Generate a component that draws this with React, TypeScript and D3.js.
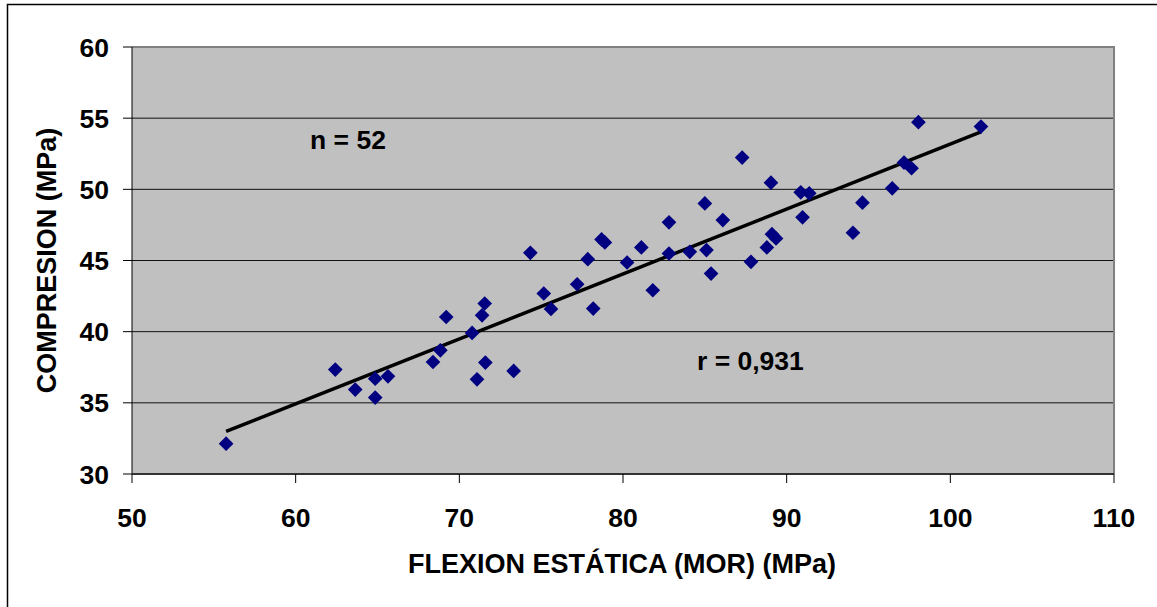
import React from "react";
import * as d3 from "d3";

// Flexion estatica (MOR) in MPa, one entry per specimen
const FLEXION = [
  55.75, 62.42, 63.64, 64.86, 64.86, 65.64, 68.39, 68.84, 69.2, 70.78,
  71.08, 71.39, 71.55, 71.59, 73.32, 74.34, 75.16, 75.6, 77.2, 77.85,
  78.18, 78.69, 78.89, 80.25, 81.12, 81.82, 82.81, 82.81, 84.08, 85.0,
  85.1, 85.38, 86.1, 87.28, 87.82, 88.79, 89.04, 89.1, 89.35, 90.86,
  90.97, 91.38, 94.05, 94.63, 96.45, 97.17, 97.63, 98.05, 101.87,
];

// Compresion in MPa, same order as FLEXION
const COMPRESION = [
  32.13, 37.34, 35.93, 36.7, 35.37, 36.86, 37.87, 38.69, 41.03, 39.91,
  36.65, 41.15, 41.98, 37.83, 37.24, 45.54, 42.68, 41.6, 43.33, 45.09,
  41.62, 46.48, 46.27, 44.86, 45.92, 42.91, 47.68, 45.49, 45.61, 49.01,
  45.73, 44.08, 47.84, 52.23, 44.91, 45.92, 50.47, 46.85, 46.55, 49.79,
  48.03, 49.72, 46.95, 49.06, 50.07, 51.88, 51.48, 54.72, 54.41,
];

const X_TICKS = [50, 60, 70, 80, 90, 100, 110];
const Y_TICKS = [30, 35, 40, 45, 50, 55, 60];

const X_TITLE = "FLEXION ESTÁTICA (MOR) (MPa)";
const Y_TITLE = "COMPRESION (MPa)";
const N_LABEL = "n = 52";
const R_LABEL = "r = 0,931";

const W = 1157;
const H = 607;
const plot = { left: 132, right: 1114, top: 47, bottom: 474 };
const FONT = "'Liberation Sans', Arial, sans-serif";

// least squares fit for the trend line
function linearFit(xs: number[], ys: number[]) {
  const mx = d3.mean(xs) as number;
  const my = d3.mean(ys) as number;
  let num = 0;
  let den = 0;
  for (let i = 0; i < xs.length; i++) {
    num += (xs[i] - mx) * (ys[i] - my);
    den += (xs[i] - mx) * (xs[i] - mx);
  }
  const slope = num / den;
  return { slope, intercept: my - slope * mx };
}

export default function App() {
  const x = d3.scaleLinear().domain([50, 110]).range([plot.left, plot.right]);
  const y = d3.scaleLinear().domain([30, 60]).range([plot.bottom, plot.top]);

  const points = FLEXION.map((f, i) => ({ f, c: COMPRESION[i] }));
  const fit = linearFit(FLEXION, COMPRESION);
  const [x0, x1] = d3.extent(FLEXION) as [number, number];
  const trend = d3.line<number>()
    .x((d) => x(d))
    .y((d) => y(fit.slope * d + fit.intercept))([x0, x1]);

  const diamond = d3.symbol().type(d3.symbolSquare).size(108)() as string;

  return (
    <svg
      width={W}
      height={H}
      style={{ position: "absolute", left: 0, top: 0, background: "#fff" }}
      fontFamily={FONT}
    >
      {/* outer chart frame */}
      <path d={`M7.5,${H} V4.5 H${W}`} fill="none" stroke="#000" strokeWidth={1.5} />

      {/* plot area */}
      <rect
        x={plot.left}
        y={plot.top}
        width={plot.right - plot.left}
        height={plot.bottom - plot.top}
        fill="#c0c0c0"
      />
      {Y_TICKS.filter((t) => t > 30 && t < 60).map((t) => (
        <line
          key={"g" + t}
          x1={plot.left}
          x2={plot.right}
          y1={y(t)}
          y2={y(t)}
          stroke="#111"
          strokeWidth={1}
        />
      ))}
      <path
        d={`M${plot.left},${plot.top} H${plot.right} V${plot.bottom}`}
        fill="none"
        stroke="#808080"
        strokeWidth={2}
      />

      {/* y axis */}
      <line x1={plot.left} x2={plot.left} y1={plot.top} y2={plot.bottom} stroke="#000" strokeWidth={1} />
      {Y_TICKS.map((t) => (
        <g key={"y" + t}>
          <line x1={plot.left - 9} x2={plot.left} y1={y(t)} y2={y(t)} stroke="#000" strokeWidth={1} />
          <text
            x={109}
            y={y(t) + 9.5}
            textAnchor="end"
            fontSize={26.5}
            fontWeight="bold"
          >
            {t}
          </text>
        </g>
      ))}

      {/* x axis */}
      <line x1={plot.left} x2={plot.right} y1={plot.bottom} y2={plot.bottom} stroke="#333" strokeWidth={2} />
      {X_TICKS.map((t) => (
        <g key={"x" + t}>
          <line x1={x(t)} x2={x(t)} y1={plot.bottom} y2={plot.bottom + 9} stroke="#000" strokeWidth={1} />
          <text
            x={x(t)}
            y={527}
            textAnchor="middle"
            fontSize={26.5}
            fontWeight="bold"
          >
            {t}
          </text>
        </g>
      ))}

      {/* trend line */}
      <path d={trend ?? ""} fill="none" stroke="#000" strokeWidth={3.5} />

      {/* points */}
      {points.map((p, i) => (
        <path
          key={i}
          d={diamond}
          transform={`translate(${x(p.f)},${y(p.c)}) rotate(45)`}
          fill="#000080"
        />
      ))}

      {/* annotations */}
      <text x={310} y={149} fontSize={26.5} fontWeight="bold">{N_LABEL}</text>
      <text x={697} y={370} fontSize={26.5} fontWeight="bold">{R_LABEL}</text>

      {/* titles */}
      <text x={622} y={573} textAnchor="middle" fontSize={27} fontWeight="bold">
        {X_TITLE}
      </text>
      <text
        transform={`translate(56,${(plot.top + plot.bottom) / 2}) rotate(-90)`}
        textAnchor="middle"
        fontSize={27}
        fontWeight="bold"
      >
        {Y_TITLE}
      </text>
    </svg>
  );
}
